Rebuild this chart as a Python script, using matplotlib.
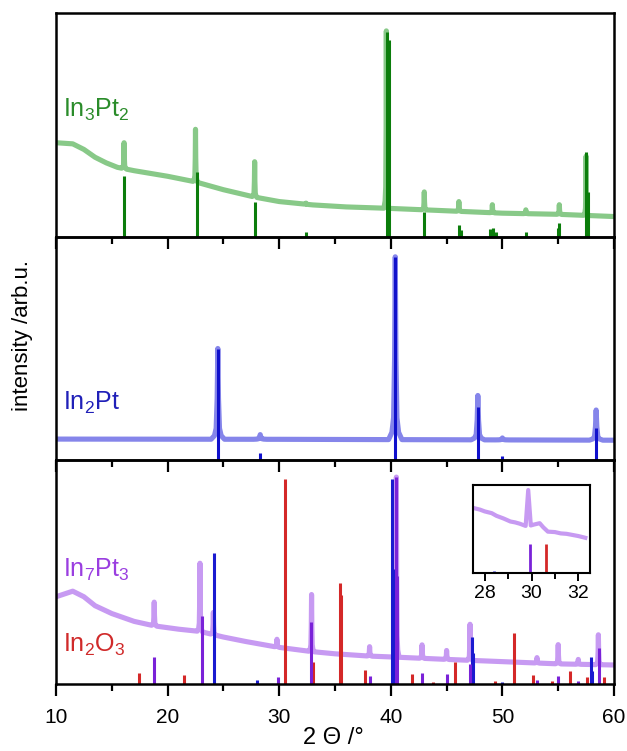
import numpy as np
import matplotlib.pyplot as plt

plt.rcParams['font.family'] = ['Liberation Sans', 'DejaVu Sans']
plt.rcParams['mathtext.fontset'] = 'custom'
plt.rcParams['mathtext.rm'] = 'Liberation Sans'
plt.rcParams['mathtext.it'] = 'Liberation Sans'

# ---- In3Pt2 (top panel), intensities as fraction of panel height ----
in3pt2_bg_x = [10, 11.5, 12.5, 13.5, 14.5, 15.5, 17, 20, 22.5, 25, 27.8, 30, 33, 36, 39.6, 43, 50, 55, 60]
in3pt2_bg_y = [0.42, 0.415, 0.39, 0.355, 0.33, 0.31, 0.295, 0.27, 0.245, 0.21, 0.177, 0.157, 0.142, 0.133, 0.127, 0.12, 0.105, 0.1, 0.09]
in3pt2_pk_pos = [16.1, 22.5, 27.8, 32.4, 39.6, 43.0, 46.1, 49.1, 52.1, 55.1, 57.5]
in3pt2_pk_top = [0.42, 0.48, 0.335, 0.15, 0.92, 0.2, 0.157, 0.143, 0.12, 0.143, 0.36]
in3pt2_ref_pos = [16.1, 22.6, 27.8, 32.4, 39.7, 39.85, 43.0, 46.1, 46.3, 48.9, 49.2, 49.4, 52.1, 55.0, 55.1, 57.5, 57.65]
in3pt2_ref_int = [0.27, 0.29, 0.155, 0.02, 0.915, 0.88, 0.11, 0.05, 0.03, 0.035, 0.04, 0.02, 0.02, 0.04, 0.06, 0.38, 0.2]

# ---- In2Pt (middle panel) ----
in2pt_bg_x = [10, 30, 45, 60]
in2pt_bg_y = [0.095, 0.094, 0.092, 0.09]
in2pt_pk_pos = [24.5, 28.3, 40.4, 47.8, 50.0, 58.4]
in2pt_pk_top = [0.5, 0.115, 0.91, 0.29, 0.1, 0.225]
in2pt_ref_pos = [24.5, 28.3, 40.4, 47.8, 50.0, 58.4]
in2pt_ref_int = [0.5, 0.035, 0.91, 0.24, 0.02, 0.146]

# ---- In7Pt3 sample + references (bottom panel) ----
in7pt3_bg_x = [10, 11.5, 12.5, 13.5, 15, 17, 18.8, 21, 22.9, 25, 27, 29.8, 32.9, 35, 38, 40.5, 45, 50, 55, 60]
in7pt3_bg_y = [0.39, 0.415, 0.39, 0.35, 0.315, 0.28, 0.26, 0.245, 0.235, 0.21, 0.19, 0.165, 0.145, 0.135, 0.125, 0.12, 0.11, 0.1, 0.09, 0.085]
in7pt3_pk_pos = [18.8, 22.9, 24.1, 29.8, 32.9, 38.1, 40.5, 42.8, 45.0, 47.1, 53.1, 55.0, 56.8, 58.6]
in7pt3_pk_top = [0.366, 0.54, 0.32, 0.2, 0.4, 0.167, 0.925, 0.175, 0.15, 0.267, 0.118, 0.176, 0.11, 0.22]

in7pt3_ref_pos = [18.8, 23.05, 29.9, 32.85, 38.1, 40.5, 40.6, 42.8, 45.0, 47.1, 53.1, 54.95, 56.8, 58.65]
in7pt3_ref_int = [0.12, 0.305, 0.03, 0.277, 0.036, 0.925, 0.485, 0.05, 0.045, 0.09, 0.02, 0.035, 0.015, 0.163]
in2pt_b_ref_pos = [24.2, 28.05, 40.1, 40.3, 47.25, 47.35, 50.0, 57.9, 58.0]
in2pt_b_ref_int = [0.587, 0.02, 0.915, 0.515, 0.21, 0.14, 0.01, 0.12, 0.06]
in2o3_ref_pos = [17.47, 21.5, 30.55, 33.05, 35.45, 35.55, 37.7, 41.9, 43.8, 45.75, 49.3, 51.0, 52.7, 54.4, 56.05, 57.6, 59.1]
in2o3_ref_int = [0.05, 0.04, 0.915, 0.1, 0.45, 0.4, 0.063, 0.045, 0.01, 0.1, 0.015, 0.23, 0.04, 0.015, 0.06, 0.03, 0.03]

# ---- inset (zoom 27.5-32.5) ----
inset_x = [27.5, 27.8, 28.0, 28.3, 28.5, 28.8, 29.1, 29.3, 29.5, 29.75, 29.86, 29.97, 30.1, 30.35, 30.5, 30.7, 31.0, 31.25, 31.5, 31.8, 32.0, 32.3]
inset_y = [0.74, 0.72, 0.7, 0.68, 0.65, 0.62, 0.585, 0.575, 0.56, 0.535, 0.943, 0.54, 0.55, 0.566, 0.52, 0.47, 0.465, 0.45, 0.445, 0.43, 0.42, 0.4]
inset_ref_pos = [28.4, 29.94, 30.62]
inset_ref_int = [0.02, 0.33, 0.33]
inset_ref_col = ['#1a1ad0', '#7a22d8', '#d42828']

# peak template (offsets in units of half width, relative height)
shape_dx = np.array([-1, -0.5, -0.25, -0.1, 0, 0.1, 0.25, 0.5, 1])
shape_f = np.array([0, 0.04, 0.12, 0.45, 1, 0.45, 0.12, 0.04, 0])


def pattern(bg_x, bg_y, pos, top, hw):
    parts = [np.asarray(bg_x, float)] + [p + shape_dx * hw for p in pos]
    x = np.unique(np.concatenate(parts))
    y = np.interp(x, bg_x, bg_y)
    for p, t in zip(pos, top):
        h = t - np.interp(p, bg_x, bg_y)
        y = y + h * np.interp(x, p + shape_dx * hw, shape_f, left=0, right=0)
    return x, y


fig = plt.figure(figsize=(6.27, 7.51), dpi=100)
axs = fig.subplots(3, 1, sharex=True, gridspec_kw=dict(hspace=0))
fig.subplots_adjust(left=56 / 627, right=614 / 627, top=1 - 13 / 751, bottom=1 - 684 / 751)

for ax in axs:
    ax.set_facecolor('none')
    ax.set_xlim(10, 60)
    ax.set_ylim(0, 1)
    ax.set_yticks([])
    ax.set_xticks([10, 20, 30, 40, 50, 60])
    ax.set_xticks(np.arange(15, 60, 10), minor=True)
    ax.tick_params(axis='x', which='major', direction='out', length=8.5, width=1.6,
                   labelsize=15, pad=9)
    ax.tick_params(axis='x', which='minor', direction='out', length=5, width=1.6)
    for s in ax.spines.values():
        s.set_linewidth(1.8)

# top
ax = axs[0]
x, y = pattern(in3pt2_bg_x, in3pt2_bg_y, in3pt2_pk_pos, in3pt2_pk_top, 0.22)
ax.plot(x, y, color='#88c988', lw=3.7, solid_joinstyle='round')
ax.vlines(in3pt2_ref_pos, 0, in3pt2_ref_int, color='#0b7d0b', lw=2.2)
ax.text(0.012, 0.536, r'In$_3$Pt$_2$', transform=ax.transAxes, color='#2a8c2a',
        fontsize=18, va='baseline')

# middle
ax = axs[1]
x, y = pattern(in2pt_bg_x, in2pt_bg_y, in2pt_pk_pos, in2pt_pk_top, 0.6)
ax.plot(x, y, color='#8585ea', lw=3.7, solid_joinstyle='round')
ax.vlines(in2pt_ref_pos, 0, in2pt_ref_int, color='#1010cc', lw=2.2)
ax.text(0.012, 0.226, r'In$_2$Pt', transform=ax.transAxes, color='#2020b8',
        fontsize=18, va='baseline')

# bottom
ax = axs[2]
x, y = pattern(in7pt3_bg_x, in7pt3_bg_y, in7pt3_pk_pos, in7pt3_pk_top, 0.24)
ax.plot(x, y, color='#c79af2', lw=3.7, solid_joinstyle='round')
ax.vlines(in2o3_ref_pos, 0, in2o3_ref_int, color='#d42828', lw=2.2)
ax.vlines(in2pt_b_ref_pos, 0, in2pt_b_ref_int, color='#1a1ad0', lw=2.2)
ax.vlines(in7pt3_ref_pos, 0, in7pt3_ref_int, color='#7a22d8', lw=2.2)
ax.text(0.012, 0.48, r'In$_7$Pt$_3$', transform=ax.transAxes, color='#9a3ee0',
        fontsize=18, va='baseline')
ax.text(0.012, 0.145, r'In$_2$O$_3$', transform=ax.transAxes, color='#d02a2a',
        fontsize=18, va='baseline')

fig.text(23 / 627, 1 - 335 / 751, 'intensity /arb.u.', rotation=90, fontsize=16,
         ha='center', va='center')
fig.text(333 / 627, 1 - 738 / 751, '2 \u0398 /\u00b0', fontsize=17, ha='center', va='center')

# inset
ins = fig.add_axes([473 / 627, 1 - 573 / 751, 117 / 627, 88 / 751])
ins.plot(inset_x, inset_y, color='#c79af2', lw=3.0)
ins.vlines(inset_ref_pos, 0, inset_ref_int, color=inset_ref_col, lw=2.0)
ins.set_xlim(27.5, 32.5)
ins.set_ylim(0, 1)
ins.set_yticks([])
ins.set_xticks([28, 30, 32])
ins.set_xticks([29, 31], minor=True)
ins.tick_params(axis='x', which='major', direction='out', length=6, width=1.4, labelsize=14, pad=3)
ins.tick_params(axis='x', which='minor', direction='out', length=4, width=1.4)
for s in ins.spines.values():
    s.set_linewidth(1.5)

fig.savefig('out.png', dpi=100)
